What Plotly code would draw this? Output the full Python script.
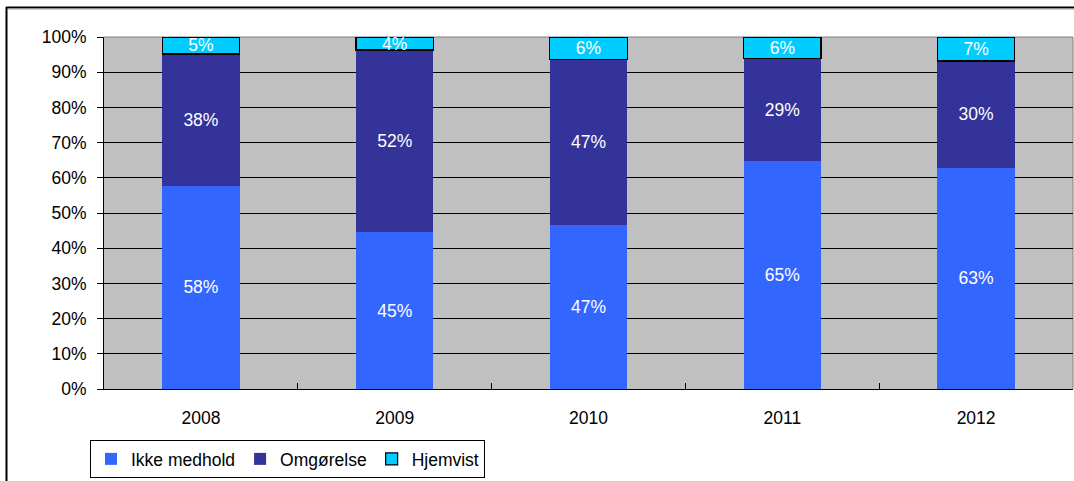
import plotly.graph_objects as go

years = ["2008", "2009", "2010", "2011", "2012"]
ikke_medhold = [57.7, 44.6, 46.6, 64.8, 62.8]
omgorelse = [37.5, 51.7, 47.0, 29.2, 30.4]
hjemvist = [4.8, 3.7, 6.4, 6.0, 6.8]
y_ticks = [0, 10, 20, 30, 40, 50, 60, 70, 80, 90, 100]
y_tick_labels = [f"{v}%" for v in y_ticks]

FONT = "Arial, 'Liberation Sans', sans-serif"
FS = 17.5

fig = go.Figure()
series = [
    ("Ikke medhold", ikke_medhold, "#3366FF", 0),
    ("Omgørelse", omgorelse, "#333399", 0),
    ("Hjemvist", hjemvist, "#00CCFF", 1.2),
]
for name, vals, color, lw in series:
    fig.add_trace(go.Bar(
        name=name, x=years, y=vals,
        marker=dict(color=color, line=dict(color="black", width=lw)),
        text=[f"{round(v)}%" for v in vals],
        textposition="inside", insidetextanchor="middle", textangle=0,
        constraintext="none",
        textfont=dict(color="white", size=FS, family=FONT),
        width=0.4,
    ))

W, H = 1074, 481
L, R, T, B = 104, 1, 37, 92
pw, ph = W - L - R, H - T - B

fig.update_layout(
    barmode="stack",
    width=W, height=H,
    margin=dict(l=L, r=R, t=T, b=B),
    paper_bgcolor="white",
    plot_bgcolor="#C0C0C0",
    font=dict(family=FONT, size=FS, color="black"),
    showlegend=True,
    legend=dict(
        orientation="h",
        x=(90 - L) / pw, xanchor="left",
        y=(389 - 440) / ph, yanchor="top",
        bordercolor="black", borderwidth=1,
        bgcolor="white",
        font=dict(size=FS, family=FONT),
        traceorder="normal",
        itemwidth=30,
        tracegroupgap=0,
    ),
    xaxis=dict(
        showgrid=False, showline=True, linecolor="black", linewidth=1,
        ticks="inside", tickson="boundaries", ticklen=6, tickcolor="black",
        ticklabelstandoff=13,
        tickfont=dict(size=FS),
    ),
    yaxis=dict(
        range=[0, 100], tickvals=y_ticks, ticktext=y_tick_labels,
        showgrid=True, gridcolor="black", gridwidth=1,
        showline=True, linecolor="black", linewidth=1,
        ticks="outside", ticklen=6, tickcolor="black",
        ticklabelstandoff=7,
        tickfont=dict(size=FS),
        zeroline=False,
    ),
    shapes=[
        dict(type="line", xref="paper", yref="paper", x0=0, x1=1, y0=1, y1=1,
             line=dict(color="#808080", width=1), layer="below"),
        dict(type="line", xref="paper", yref="paper", x0=1, x1=1, y0=0, y1=1,
             line=dict(color="#808080", width=1), layer="below"),
        dict(type="line", xref="paper", yref="paper",
             x0=(6.5 - L) / pw, x1=(6.5 - L) / pw, y0=(389 - 7) / ph, y1=(389 - H - 5) / ph,
             line=dict(color="black", width=2)),
        dict(type="line", xref="paper", yref="paper",
             x0=(6 - L) / pw, x1=1.01, y0=(389 - 7.5) / ph, y1=(389 - 7.5) / ph,
             line=dict(color="black", width=2)),
        dict(type="line", xref="paper", yref="paper",
             x0=(8 - L) / pw, x1=1.01, y0=(389 - 9) / ph, y1=(389 - 9) / ph,
             line=dict(color="#A0A0A0", width=1)),
    ],
)

fig.write_html(
    "out.html",
    config={"displayModeBar": False},
    post_script="document.body.style.margin='0';document.body.style.overflow='hidden';",
)
